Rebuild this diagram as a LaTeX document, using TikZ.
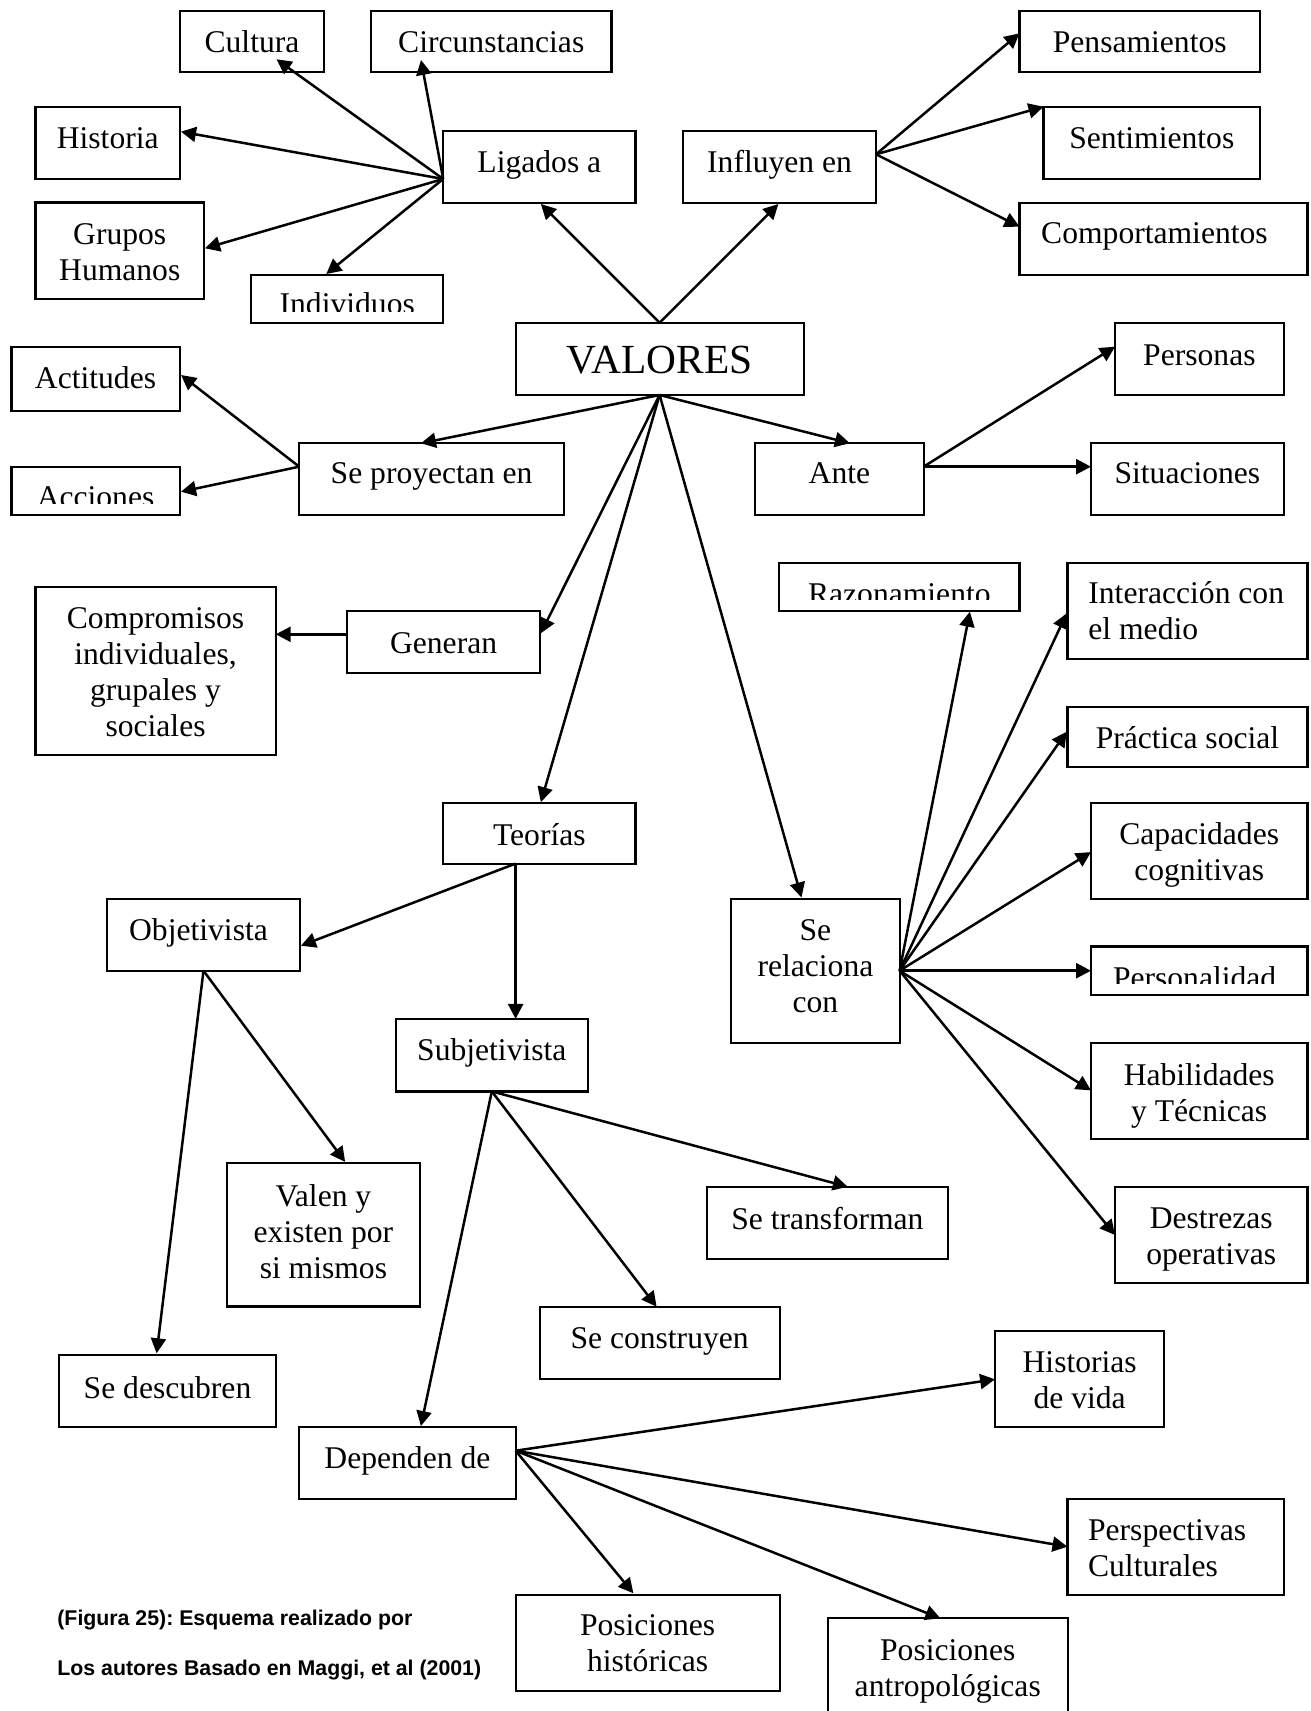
\documentclass[tikz,border=0pt]{standalone}
\usepackage{fontspec}
\setmainfont{Liberation Serif}
\newfontfamily\captionfont{Liberation Sans}
\usetikzlibrary{arrows.meta,calc,fit}
\frenchspacing

% box drawn exactly through its two corners (x1,y1) (x2,y2)
\newcommand\mkbox[5]{\node[box, fit={(#2,#3) (#4,#5)}] (#1) {};}
% centred multi-line text, baseline of the node = baseline of the first line
\newcommand\mlines[1]{\parbox[t]{260pt}{\centering #1}}
\newcommand\llines[1]{\parbox[t]{200pt}{\raggedright #1}}

\tikzset{
  box/.style={draw, line width=1.1pt, inner sep=0pt, outer sep=0pt},
  lbl/.style={anchor=base, inner sep=0pt, yshift=-1pt, font=\fontsize{15.8}{18}\selectfont},
  lblL/.style={lbl, anchor=base west},
  bigtxt/.style={anchor=base, inner sep=0pt, yshift=-1pt, font=\fontsize{20.7}{24}\selectfont},
  arr/.style={line width=1.25pt, -{Triangle[length=7.5pt,width=7.5pt]}},
  captxt/.style={anchor=base west, inner sep=0pt,
    font=\captionfont\bfseries\fontsize{10.65}{12}\selectfont},
  cut/.style={fill=white, draw=none},
}

\begin{document}
\begin{tikzpicture}[x=0.5pt, y=-0.5pt]
\useasboundingbox (0,0) rectangle (1310,1711);
\fill[white] (0,0) rectangle (1310,1711);
\clip (0,0) rectangle (1310,1711);

% ---------- boxes ----------
\mkbox{cul}{180}{11}{324}{72}
\mkbox{cir}{371}{11}{611.5}{72}
\mkbox{his}{35.5}{107}{180}{179}
\mkbox{gru}{35.5}{202.5}{204}{298.7}
\mkbox{ind}{251.3}{275}{443.2}{322.7}
\mkbox{lig}{443.2}{130.7}{635.5}{202.7}
\mkbox{inf}{683.2}{130.7}{876}{202.7}
\mkbox{pen}{1019.5}{10.7}{1260}{71.7}
\mkbox{sen}{1043.5}{106.7}{1260}{179}
\mkbox{com}{1019.5}{202.7}{1307.4}{275}
\mkbox{val}{515.6}{322.7}{803.6}{395}
\mkbox{act}{11.4}{346.7}{179.7}{411}
\mkbox{acc}{11.4}{466.7}{179.7}{515}
\mkbox{pro}{299.2}{442.7}{564}{515}
\mkbox{ante}{755.2}{442.7}{923.6}{515}
\mkbox{per}{1115}{322.7}{1283.8}{395}
\mkbox{sit}{1091}{442.7}{1283.8}{515}
\mkbox{cmp}{35.4}{586.7}{275.7}{755}
\mkbox{gen}{347.2}{610.7}{540}{673.3}
\mkbox{raz}{779.2}{562.7}{1019.5}{611}
\mkbox{int}{1067.5}{562.7}{1307.4}{659}
\mkbox{pra}{1067.5}{706.7}{1307.4}{767}
\mkbox{teo}{443.2}{802.9}{635.5}{863.6}
\mkbox{obj}{107.3}{898.6}{299.7}{970.7}
\mkbox{sub}{395.6}{1018.9}{588}{1091.4}
\mkbox{valen}{227.3}{1162.9}{419.6}{1306.4}
\mkbox{rel}{731.2}{899.3}{899.6}{1042.9}
\mkbox{capa}{1091}{802.9}{1307.4}{898.6}
\mkbox{pers}{1091}{946.4}{1307.4}{995}
\mkbox{hab}{1091}{1042.9}{1307.4}{1138.6}
\mkbox{des}{1115}{1186.8}{1307.4}{1283.2}
\mkbox{tra}{707.2}{1186.8}{947.6}{1258.9}
\mkbox{cons}{539.6}{1306.7}{779.6}{1379}
\mkbox{desc}{59.3}{1355}{275.7}{1426.7}
\mkbox{dep}{299.2}{1426.7}{515.6}{1499}
\mkbox{hv}{995.1}{1330.7}{1164.3}{1427.3}
\mkbox{pc}{1067.5}{1499}{1284.3}{1595}
\mkbox{ph}{515.6}{1595}{779.6}{1690.7}
\mkbox{pa}{827.6}{1618.3}{1067.9}{1730}

% ---------- labels ----------
\node[lbl] (cul-t)  at ($(cul.north)+(0,39.5)$) {Cultura};
\node[lbl] (cir-t)  at ($(cir.north)+(0,39.5)$) {Circunstancias};
\node[lbl] (his-t)  at ($(his.north)+(0,39.5)$) {Historia};
\node[lbl] (gru-t)  at ($(gru.north)+(0,40)$) {\mlines{Grupos\\Humanos}};
\node[lbl] (ind-t)  at ($(ind.north)+(0,37.3)$) {Individuos};
\node[lbl] (lig-t)  at ($(lig.north)+(0,39.5)$) {Ligados a};
\node[lbl] (inf-t)  at ($(inf.north)+(0,39.5)$) {Influyen en};
\node[lbl] (pen-t)  at ($(pen.north)+(0,39.5)$) {Pensamientos};
\node[lbl] (sen-t)  at ($(sen.north)+(0,40)$) {Sentimientos};
\node[lbl] (com-t)  at ($(com.north)+(-9,39)$) {Comportamientos};
\node[bigtxt] (val-t) at ($(val.north)+(0,49)$) {VALORES};
\node[lbl] (act-t)  at ($(act.north)+(0,40)$) {Actitudes};
\node[lbl] (acc-t)  at ($(acc.north)+(0,39)$) {Acciones};
\node[lbl] (pro-t)  at ($(pro.north)+(0,39)$) {Se proyectan en};
\node[lbl] (ante-t) at ($(ante.north)+(0,39)$) {Ante};
\node[lbl] (per-t)  at ($(per.north)+(0,40.6)$) {Personas};
\node[lbl] (sit-t)  at ($(sit.north)+(0,39)$) {Situaciones};
\node[lbl] (cmp-t)  at ($(cmp.north)+(0,40)$) {\mlines{Compromisos\\individuales,\\grupales y\\sociales}};
\node[lbl] (gen-t)  at ($(gen.north)+(0,41)$) {Generan};
\node[lbl] (raz-t)  at ($(raz.north)+(0,39.6)$) {Razonamiento};
\node[lblL] (int-t) at ($(int.north west)+(20.5,39)$) {\llines{Interacción con\\el medio}};
\node[lbl] (pra-t)  at ($(pra.north)+(0,40)$) {Práctica social};
\node[lbl] (teo-t)  at ($(teo.north)+(0,41)$) {Teorías};
\node[lbl] (obj-t)  at ($(obj.north)+(-5,40)$) {Objetivista};
\node[lbl] (sub-t)  at ($(sub.north)+(0,39.3)$) {Subjetivista};
\node[lbl] (valen-t) at ($(valen.north)+(0,41.5)$) {\mlines{Valen y\\existen por\\si mismos}};
\node[lbl] (rel-t)  at ($(rel.north)+(0,39.3)$) {\mlines{Se\\relaciona\\con}};
\node[lbl] (capa-t) at ($(capa.north)+(0,39.2)$) {\mlines{Capacidades\\cognitivas}};
\node[lbl] (pers-t) at ($(pers.north)+(-4.6,39.6)$) {Personalidad};
\node[lbl] (hab-t)  at ($(hab.north)+(0,40.3)$) {\mlines{Habilidades\\y Técnicas}};
\node[lbl] (des-t)  at ($(des.north)+(0,39.2)$) {\mlines{Destrezas\\operativas}};
\node[lbl] (tra-t)  at ($(tra.north)+(0,41)$) {Se transforman};
\node[lbl] (cons-t) at ($(cons.north)+(0,40)$) {Se construyen};
\node[lbl] (desc-t) at ($(desc.north)+(0,41.5)$) {Se descubren};
\node[lbl] (dep-t)  at ($(dep.north)+(0,40)$) {Dependen de};
\node[lbl] (hv-t)   at ($(hv.north)+(0,39.3)$) {\mlines{Historias\\de vida}};
\node[lblL] (pc-t)  at ($(pc.north west)+(20.2,39.3)$) {\llines{Perspectivas\\Culturales}};
\node[lbl] (ph-t)   at ($(ph.north)+(0,38.3)$) {\mlines{Posiciones\\históricas}};
\node[lbl] (pa-t)   at ($(pa.north)+(0,40)$) {\mlines{Posiciones\\antropológicas}};

% text cut off at the lower edge of the short boxes
\fill[cut] ($(ind.south west)+(1.5,-10.7)$) rectangle ($(ind.south east)+(-1.5,-1.5)$);
\fill[cut] ($(acc.south west)+(1.5,-10.7)$) rectangle ($(acc.south east)+(-1.5,-1.5)$);
\fill[cut] ($(raz.south west)+(1.5,-11)$) rectangle ($(raz.south east)+(-1.5,-1.5)$);
\fill[cut] ($(pers.south west)+(1.5,-10.7)$) rectangle ($(pers.south east)+(-1.5,-1.5)$);

% ---------- connectors ----------
% VALORES upwards
\draw[arr] (val.north) -- ($(lig.south)+(1.5,1.3)$);
\draw[arr] (val.north) -- ($(inf.south)+(-1.2,1.3)$);

% Ligados a
\coordinate (ligh) at ($(lig.south west)+(0,-23.7)$);
\draw[arr] (ligh) -- ($(cul.south west)+(96.5,-12.7)$);
\draw[arr] (ligh) -- ($(cir.south west)+(50,-12)$);
\draw[arr] (ligh) -- ($(his.south east)+(1,-47.3)$);
\draw[arr] (ligh) -- ($(gru.east)+(1,-2.3)$);
\draw[arr] (ligh) -- ($(ind.north west)+(75,-1)$);

% Influyen en
\coordinate (infh) at ($(inf.north east)+(0,23.6)$);
\draw[arr] (infh) -- ($(pen.west)+(0,-7.9)$);
\draw[arr] (infh) -- (sen.north west);
\draw[arr] (infh) -- ($(com.north west)+(0,24)$);

% VALORES downwards
\draw[arr] (val.south) -- ($(pro.north)+(-10.7,0.6)$);
\draw[arr] (val.south) -- ($(ante.north)+(10.6,0.6)$);
\draw[arr] (val.south) -- ($(gen.east)+(0.8,-8.7)$);
\draw[arr] (val.south) -- ($(teo.north)+(1.5,-0.8)$);
\draw[arr] (val.south) -- ($(rel.north)+(-13.9,-1.8)$);

% Se proyectan en
\coordinate (proh) at ($(pro.north west)+(0,24)$);
\draw[arr] (proh) -- ($(act.north east)+(1.3,28.3)$);
\draw[arr] (proh) -- ($(acc.north east)+(1.3,25)$);

% Ante
\coordinate (anteh) at ($(ante.north east)+(0,24)$);
\draw[arr] (anteh) -- ($(per.north west)+(0,24)$);
\draw[arr] (anteh) -- (anteh -| sit.west);

% Generan
\coordinate (genh) at ($(gen.north west)+(0,23.6)$);
\draw[arr] (genh) -- (genh -| cmp.east);

% Se relaciona con
\coordinate (relh) at ($(rel.north east)+(0,71.4)$);
\draw[arr] (relh) -- ($(raz.south)+(70.5,0.7)$);
\draw[arr] (relh) -- ($(int.north west)+(-0.8,50.6)$);
\draw[arr] (relh) -- ($(pra.north west)+(-0.8,25)$);
\draw[arr] (relh) -- ($(capa.north west)+(0,49.2)$);
\draw[arr] (relh) -- (relh -| pers.west);
\draw[arr] (relh) -- ($(hab.north west)+(0,47.5)$);
\draw[arr] (relh) -- ($(des.north west)+(0,48.2)$);

% Teorías
\coordinate (teoh) at ($(teo.south west)+(72.4,0)$);
\draw[arr] (teoh) -- ($(obj.north east)+(1.2,47.1)$);
\draw[arr] (teoh) -- (teoh |- sub.north);

% Objetivista
\draw[arr] (obj.south) -- ($(valen.north)+(21.7,-1)$);
\draw[arr] (obj.south) -- ($(desc.north)+(-10.9,-1.7)$);

% Subjetivista
\draw[arr] (sub.south) -- ($(tra.north)+(20.4,0)$);
\draw[arr] (sub.south) -- ($(cons.north)+(-3,0)$);
\draw[arr] (sub.south) -- ($(dep.north)+(13.5,-0.7)$);

% Dependen de
\coordinate (deph) at ($(dep.north east)+(0,24)$);
\draw[arr] (deph) -- ($(hv.north west)+(0,48.6)$);
\draw[arr] (deph) -- ($(pc.north west)+(0,47.7)$);
\draw[arr] (deph) -- ($(pa.north)+(-7.4,0)$);
\draw[arr] (deph) -- ($(ph.north)+(-14.2,-1.7)$);

% ---------- caption ----------
\node[captxt] (cap1) at (57,1625) {(Figura 25): Esquema realizado por};
\node[captxt] (cap2) at (57,1675) {Los autores Basado en Maggi, et al (2001)};
\end{tikzpicture}
\end{document}
